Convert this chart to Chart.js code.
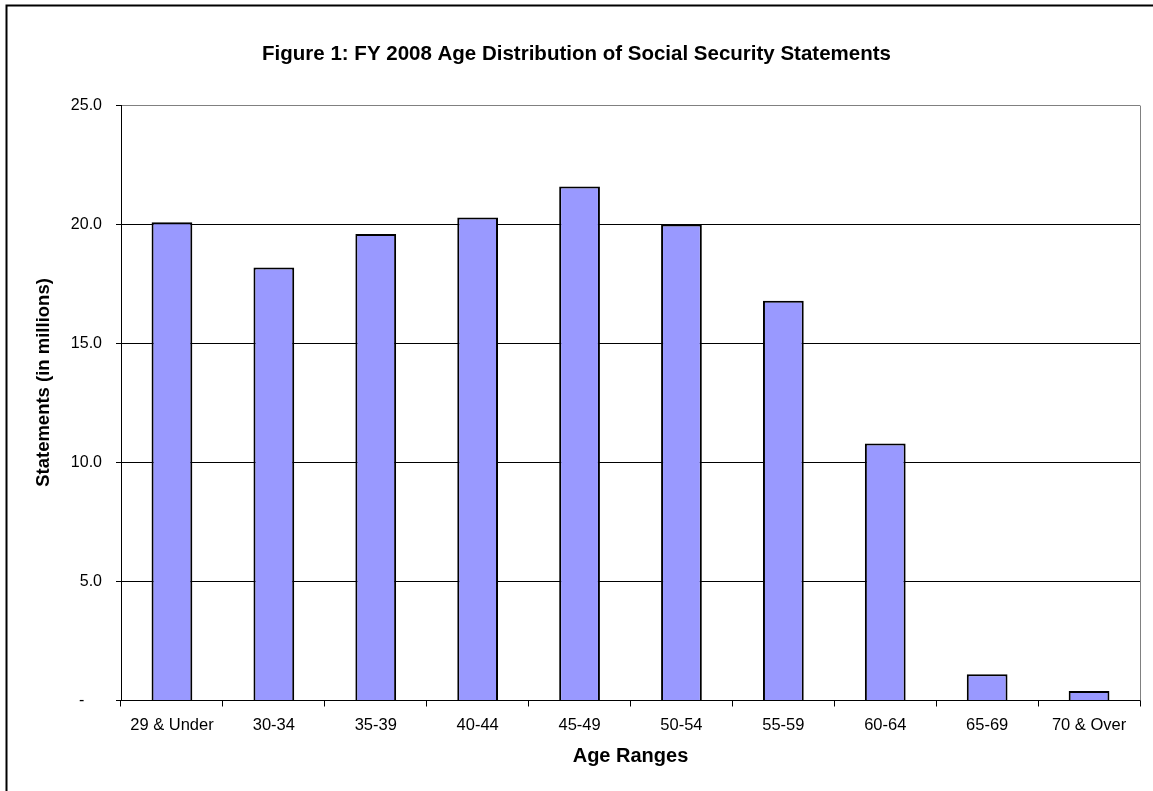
<!DOCTYPE html>
<html>
<head>
<meta charset="utf-8">
<script src="https://cdn.jsdelivr.net/npm/chart.js@4/dist/chart.umd.min.js"></script>
<style>
  html, body { margin: 0; padding: 0; background: #fff; }
  #wrap { width: 1153px; height: 791px; position: relative; }
</style>
</head>
<body>
<div id="wrap"><canvas id="c" width="1153" height="791"></canvas></div>
<script>
// Age ranges and FY 2008 statement counts (millions)
const categories = ['29 & Under', '30-34', '35-39', '40-44', '45-49', '50-54', '55-59', '60-64', '65-69', '70 & Over'];
const statements = [20.1, 18.2, 19.6, 20.3, 21.6, 20.0, 16.8, 10.8, 1.1, 0.4];
const yTicks = [0, 5, 10, 15, 20, 25];

const FONT = 'Arial, "Liberation Sans", sans-serif';

// Outer frame (left and top edges) plus the grey right edge of the plot area
const framePlugin = {
  id: 'frame',
  beforeDraw(chart) {
    const { ctx, width, height } = chart;
    ctx.save();
    ctx.fillStyle = '#fff';
    ctx.fillRect(0, 0, width, height);
    ctx.strokeStyle = '#000';
    ctx.lineWidth = 2;
    ctx.beginPath();
    ctx.moveTo(6.5, height);
    ctx.lineTo(6.5, 5.5);
    ctx.lineTo(width, 5.5);
    ctx.stroke();
    ctx.restore();
  },
  afterDatasetsDraw(chart) {
    const { ctx, chartArea } = chart;
    ctx.save();
    ctx.strokeStyle = '#808080';
    ctx.lineWidth = 1;
    const x = Math.round(chartArea.right) + 0.5;
    ctx.beginPath();
    ctx.moveTo(x, chartArea.top);
    ctx.lineTo(x, chartArea.bottom);
    ctx.stroke();
    ctx.restore();
  }
};

new Chart(document.getElementById('c'), {
  type: 'bar',
  data: {
    labels: categories,
    datasets: [{
      data: statements,
      backgroundColor: '#9999FF',
      borderColor: '#000',
      borderWidth: 2,
      barPercentage: 0.4,
      categoryPercentage: 1.0
    }]
  },
  options: {
    responsive: false,
    animation: false,
    devicePixelRatio: 1,
    layout: { padding: { left: 13, right: 13, top: 0, bottom: 0 } },
    plugins: {
      legend: { display: false },
      tooltip: { enabled: false },
      title: {
        display: true,
        text: 'Figure 1: FY 2008 Age Distribution of Social Security Statements',
        color: '#000',
        font: { family: FONT, size: 20.5, weight: 'bold' },
        padding: { top: 42, bottom: 39 }
      }
    },
    scales: {
      x: {
        grid: {
          offset: true,
          drawOnChartArea: false,
          tickLength: 6,
          tickColor: '#000'
        },
        border: { color: '#000', width: 1 },
        ticks: {
          color: '#000',
          font: { family: FONT, size: 16.5 },
          padding: 9,
          maxRotation: 0
        },
        title: {
          display: true,
          text: 'Age Ranges',
          color: '#000',
          font: { family: FONT, size: 20, weight: 'bold' },
          padding: { top: 8, bottom: 23 }
        },
        afterFit(scale) { scale.height = 90.5; }
      },
      y: {
        min: 0,
        max: 25,
        afterBuildTicks(scale) { scale.ticks = yTicks.map(v => ({ value: v })); },
        grid: {
          color: ctx => (ctx.tick && ctx.tick.value === 25 ? '#808080' : '#000'),
          tickColor: '#000',
          tickLength: 5
        },
        border: { color: '#000', width: 1 },
        ticks: {
          color: '#000',
          font: { family: FONT, size: 16 },
          padding: 14,
          callback: v => (v === 0 ? '-    ' : Number(v).toFixed(1))
        },
        title: {
          display: true,
          text: '        Statements (in millions)',
          color: '#000',
          font: { family: FONT, size: 18.5, weight: 'bold' },
          padding: { top: 20, bottom: 10 }
        },
        afterFit(scale) { scale.width = 108; }
      }
    }
  },
  plugins: [framePlugin]
});
</script>
</body>
</html>
